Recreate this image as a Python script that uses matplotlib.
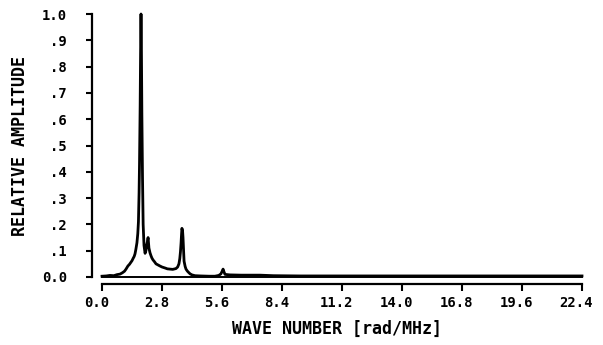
import matplotlib
matplotlib.use("Agg")
import matplotlib.pyplot as plt
import matplotlib.transforms as mtransforms

# Spectrum trace
wave_number = [0.00, 0.20, 0.37, 0.55, 0.70, 0.84, 0.95, 1.05, 1.12, 1.21, 1.28, 1.34, 1.40, 1.46, 1.50,
               1.54, 1.58, 1.63, 1.67, 1.70, 1.73, 1.75, 1.78, 1.80, 1.82, 1.84, 1.86, 1.89, 1.92,
               1.96, 2.01, 2.05, 2.08, 2.12, 2.15, 2.19, 2.24, 2.29, 2.33, 2.38, 2.45, 2.52, 2.61,
               2.70, 2.80, 2.95, 3.05, 3.17, 3.30, 3.45, 3.53, 3.59, 3.63, 3.66, 3.69, 3.71, 3.73,
               3.76, 3.78, 3.81, 3.83, 3.88, 3.92, 3.97, 4.01, 4.11, 4.20, 4.34, 4.60, 5.00, 5.27,
               5.45, 5.55, 5.62, 5.65, 5.69, 5.74, 5.85, 5.97, 6.50, 7.00, 7.37, 8.00, 9.24,
               10.5, 12.0, 14.0, 16.0, 18.0, 20.0, 22.4]
amplitude = [0.003, 0.004, 0.006, 0.005, 0.009, 0.011, 0.016, 0.022, 0.030, 0.042, 0.048, 0.055, 0.062, 0.072, 0.078,
             0.088, 0.105, 0.130, 0.165, 0.210, 0.320, 0.430, 0.650, 0.850, 1.000, 0.860, 0.620, 0.380, 0.200,
             0.120, 0.090, 0.100, 0.120, 0.135, 0.150, 0.110, 0.092, 0.080, 0.072, 0.065, 0.058, 0.050, 0.046,
             0.042, 0.038, 0.034, 0.031, 0.030, 0.029, 0.032, 0.038, 0.050, 0.070, 0.095, 0.130, 0.160, 0.185,
             0.175, 0.150, 0.095, 0.060, 0.040, 0.030, 0.024, 0.020, 0.012, 0.008, 0.005, 0.004, 0.003, 0.003,
             0.006, 0.012, 0.024, 0.030, 0.020, 0.010, 0.009, 0.008, 0.007, 0.007, 0.007, 0.005, 0.004,
             0.004, 0.004, 0.004, 0.004, 0.004, 0.004, 0.004]

x_ticks = [0.0, 2.8, 5.6, 8.4, 11.2, 14.0, 16.8, 19.6, 22.4]
x_tick_labels = ["0.0", "2.8", "5.6", "8.4", "11.2", "14.0", "16.8", "19.6", "22.4"]
y_ticks = [0.0, 0.1, 0.2, 0.3, 0.4, 0.5, 0.6, 0.7, 0.8, 0.9, 1.0]
y_tick_labels = ["0.0", ".1", ".2", ".3", ".4", ".5", ".6", ".7", ".8", ".9", "1.0"]

plt.rcParams['font.family'] = ['DejaVu Sans Mono']
plt.rcParams['font.weight'] = 'bold'

fig = plt.figure(figsize=(6.03, 3.45), dpi=100)
ax = fig.add_axes([92/603, 1 - 277/345, (582 - 92)/603, (277 - 14)/345])

ax.plot(wave_number, amplitude, color='black', lw=2.0, clip_on=False, solid_joinstyle='round')
ax.plot([0, 22.4], [0, 0], color='black', lw=1.4, clip_on=False)

ax.set_xlim(-0.467, 22.4)
ax.set_ylim(0, 1.0)

for s in ['top', 'right']:
    ax.spines[s].set_visible(False)
ax.spines['bottom'].set_position(('outward', 5))
ax.spines['bottom'].set_bounds(0, 22.4)
ax.spines['left'].set_bounds(0, 1.0)
ax.spines['left'].set_linewidth(1.6)
ax.spines['bottom'].set_linewidth(1.6)

ax.set_xticks(x_ticks)
ax.set_xticklabels(x_tick_labels, fontsize=10, fontweight='bold')
ax.set_yticks(y_ticks)
ax.set_yticklabels(y_tick_labels, fontsize=10, fontweight='bold')
ax.tick_params(axis='x', direction='out', length=5, width=1.5, pad=4)
ax.tick_params(axis='y', direction='out', length=4, width=1.5, pad=14)

offset = mtransforms.ScaledTranslation(-4/72, 0, fig.dpi_scale_trans)
for lbl in ax.get_xticklabels():
    lbl.set_transform(lbl.get_transform() + offset)

ax.set_xlabel("WAVE NUMBER [rad/MHz]", fontsize=12, fontweight='bold', labelpad=7)
ax.set_ylabel("RELATIVE AMPLITUDE", fontsize=12, fontweight='bold', labelpad=9)

fig.savefig("out.png", dpi=100)
